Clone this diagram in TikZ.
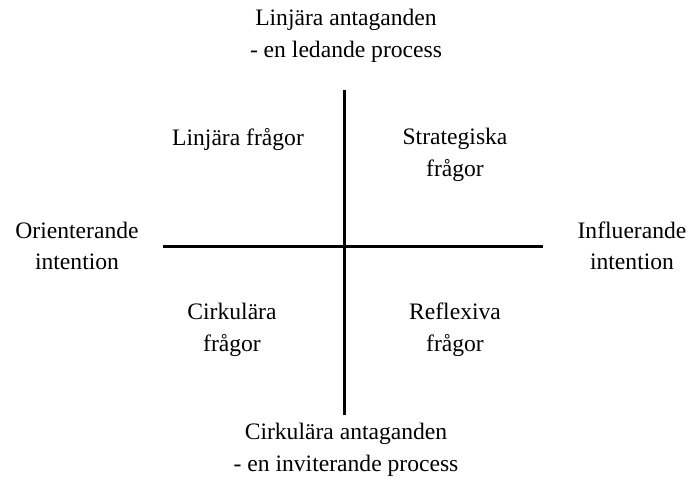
\documentclass[tikz,border=0pt]{standalone}
\usepackage{fontspec}
\setmainfont{Liberation Serif}
\usetikzlibrary{positioning,calc}

\begin{document}
\begin{tikzpicture}[
    x=0.5pt, y=-0.5pt,
    label/.style={align=center, inner sep=0pt, font=\fontsize{11.8}{15.8}\selectfont},
    axis/.style={line width=1.5pt}
]

% Frame
\useasboundingbox (0,0) rectangle (688,486);

% Axes ends
\coordinate (top) at (344,90);
\coordinate (bottom) at (344,415);
\coordinate (left) at (163,246);
\coordinate (right) at (543,246);

% Axes
\draw[axis] (top) -- (bottom);
\draw[axis] (left) -- (right);

% Axis labels
\node[label] (linear) at (346,36) {Linjära antaganden\\- en ledande process};
\node[label] (circular) at (346,450) {Cirkulära antaganden\\- en inviterande process};
\node[label] (orient) at (77,246) {Orienterande\\intention};
\node[label] (influ) at (632,246) {Influerande\\intention};

% Quadrants
\node[label] (q1) at (238,140) {Linjära frågor};
\node[label] (q2) at (455,155) {Strategiska\\frågor};
\node[label] (q3) at (232,330) {Cirkulära\\frågor};
\node[label] (q4) at (455,330) {Reflexiva\\frågor};

\end{tikzpicture}
\end{document}
